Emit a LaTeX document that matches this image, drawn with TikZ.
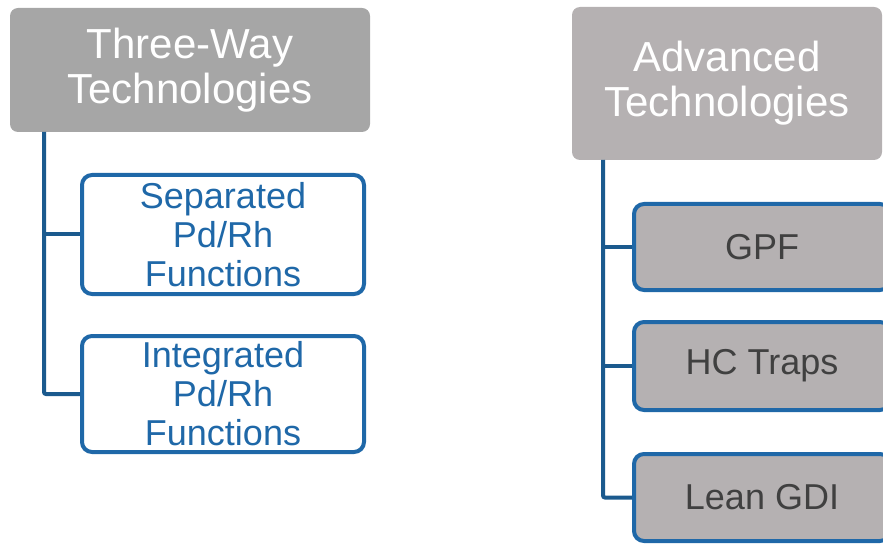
\documentclass[tikz,border=0pt]{standalone}
\usepackage{fontspec}
\setmainfont{Liberation Sans}
\usetikzlibrary{positioning}

\definecolor{hdrgrey}{HTML}{A6A6A6}
\definecolor{hdrmauve}{HTML}{B5B1B2}
\definecolor{boxblue}{HTML}{1F68A8}
\definecolor{linkblue}{HTML}{1B5A8E}
\definecolor{txtgrey}{HTML}{404040}

\tikzset{
  header/.style={rounded corners=8pt, inner sep=0pt, align=center, text=white,
    font=\fontsize{42}{45}\selectfont},
  leafbox/.style={draw=boxblue, line width=4pt, rounded corners=10pt, inner sep=0pt,
    align=center, font=\fontsize{36}{39}\selectfont},
  link/.style={draw=linkblue, line width=4pt}
}

\begin{document}
\begin{tikzpicture}[x=1pt,y=-1pt]

\useasboundingbox (0,0) rectangle (883,545) ;

% headers
\node [header, fill=hdrgrey, minimum width=360pt, minimum height=124pt] (threeway) at (190,70) {Three-Way\\Technologies} ;
\node [header, fill=hdrmauve, minimum width=310pt, minimum height=153pt] (advanced) at (727,83.5) {Advanced\\Technologies} ;

% left column
\node [leafbox, fill=white, text=boxblue, minimum width=282pt, minimum height=119pt] (separated) at (223,234.5) {Separated\\Pd/Rh\\Functions} ;
\node [leafbox, fill=white, text=boxblue, minimum width=282pt, minimum height=116pt] (integrated) at (223,394) {Integrated\\Pd/Rh\\Functions} ;

% right column
\node [leafbox, fill=hdrmauve, text=txtgrey, minimum width=256pt, minimum height=86pt] (gpf) at (762,247) {GPF} ;
\node [leafbox, fill=hdrmauve, text=txtgrey, minimum width=256pt, minimum height=88pt] (hctraps) at (762,366) {HC Traps} ;
\node [leafbox, fill=hdrmauve, text=txtgrey, minimum width=256pt, minimum height=87pt] (leangdi) at (762,497.5) {Lean GDI} ;

\coordinate (trunkL) at (44,132) ;
\coordinate (trunkR) at (603,160) ;

\draw [link] (trunkL) |- (separated.west) ;
\draw [link, rounded corners=2pt] (trunkL) |- (integrated.west) ;

\draw [link] (trunkR) |- (gpf.west) ;
\draw [link] (trunkR) |- (hctraps.west) ;
\draw [link, rounded corners=2pt] (trunkR) |- (leangdi.west) ;

\end{tikzpicture}
\end{document}
